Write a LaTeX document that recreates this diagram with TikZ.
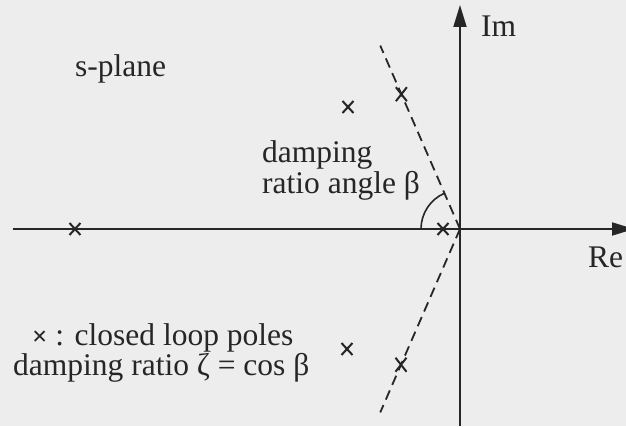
\documentclass[tikz,border=0pt]{standalone}
\usepackage{fontspec}
\setmainfont{Liberation Serif}
\usetikzlibrary{arrows.meta, shapes.misc, positioning, calc}
\tikzstyle{axis} = [line width=1.8pt, draw=black!85, -{Triangle[length=22pt,width=13pt]}]
\tikzstyle{pole} = [cross out, draw=black!85, line width=2pt, minimum width=9pt, minimum height=10pt, inner sep=0pt]
\tikzstyle{zetaline} = [draw=black!85, line width=1.8pt, dash pattern=on 10pt off 6pt]
\tikzstyle{txt} = [font=\fontsize{31.5}{32}\selectfont, text=black!85, inner sep=0pt]

\begin{document}
\begin{tikzpicture}[x=1pt, y=1pt]
    % Hintergrund und Rahmen
    \fill[black!7] (-460,-197) rectangle (166,229);
    \useasboundingbox (-460,-197) rectangle (166,229);

    % Achsen
    \coordinate (o) at (0,0);
    \coordinate (reL) at (-447,0);
    \coordinate (reR) at (174,0);
    \coordinate (imB) at (0,-197);
    \coordinate (imT) at (0,224);
    \draw [axis] (reL) -- (reR);
    \draw [axis] (imB) -- (imT);
    \node (im) [txt, anchor=base west] at (21,192) {Im};
    \node (re) [txt, anchor=base west] at (128,-38) {Re};

    % Linien konstanter Dämpfung
    \coordinate (zu) at (113.5:200);
    \coordinate (zl) at (-113.5:200);
    \draw [zetaline] (o) -- (zu);
    \draw [zetaline] (o) -- (zl);
    \draw [line width=1.6pt, draw=black!85] (-39,0) arc[start angle=180, end angle=113.5, radius=39];

    % Pole
    \node (p1) [pole] at (-385,0) {};
    \node (p2) [pole] at (-17,0) {};
    \node (p3) [pole] at (-112,122) {};
    \node (p4) [pole] at (-113,-120) {};
    \node (p5) [pole, minimum height=12pt] at (113.5:147) {};
    \node (p6) [pole, minimum height=12pt] at (-113.5:148) {};

    % Beschriftungen
    \node (splane) [txt, anchor=base west] at (-385,152) {s-plane};
    \node (beta1) [txt, anchor=base west] at (-198,67) {damping};
    \node (beta2) [txt, anchor=base west] at (-198,36) {ratio angle β};
    \node (leg1) [txt, anchor=base west] at (-428,-116) {{\fontsize{27}{27}\selectfont\bfseries ×} : closed loop poles};
    \node (leg2) [txt, anchor=base west] at (-447,-146) {damping ratio ζ = cos β};
\end{tikzpicture}
\end{document}
